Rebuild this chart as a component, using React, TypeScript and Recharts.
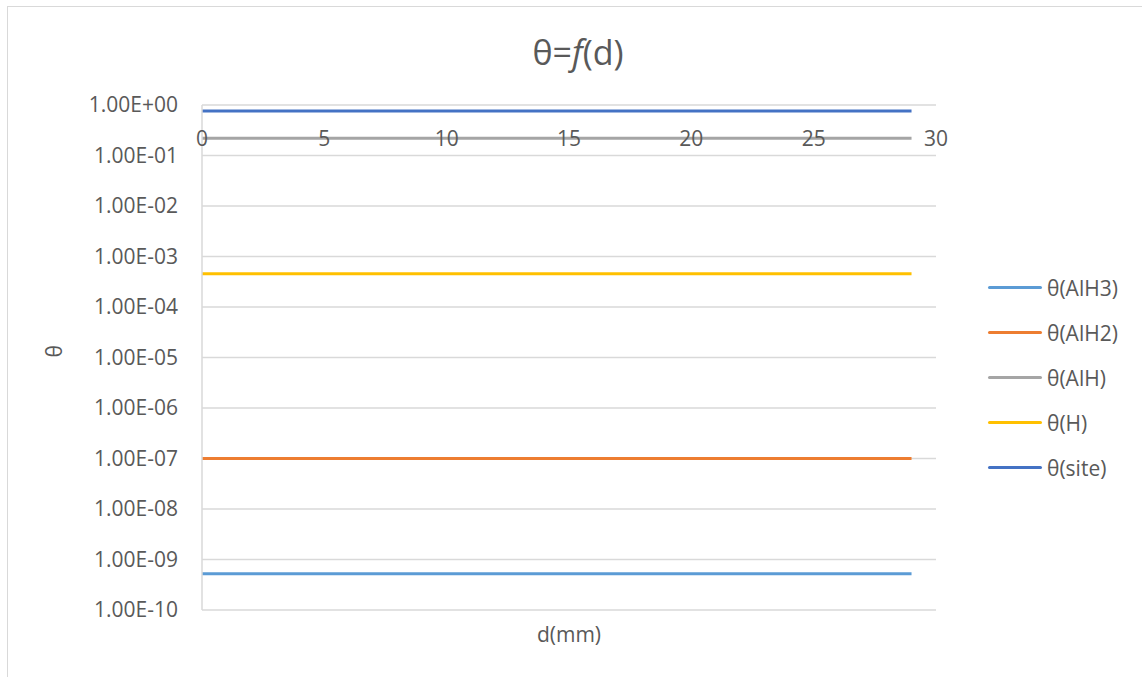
import React from 'react';
import { LineChart, Line, XAxis, YAxis, CartesianGrid, ReferenceDot } from 'recharts';

// distance along the sample, mm
const dValues = [0, 1, 2, 3, 4, 5, 6, 7, 8, 9, 10, 11, 12, 13, 14, 15, 16, 17, 18, 19, 20, 21, 22, 23, 24, 25, 26, 27, 28, 29];

// surface coverages per species
const thetaAlH3 = [5.2e-10, 5.2e-10, 5.2e-10, 5.2e-10, 5.2e-10, 5.2e-10, 5.2e-10, 5.2e-10, 5.2e-10, 5.2e-10, 5.2e-10, 5.2e-10, 5.2e-10, 5.2e-10, 5.2e-10, 5.2e-10, 5.2e-10, 5.2e-10, 5.2e-10, 5.2e-10, 5.2e-10, 5.2e-10, 5.2e-10, 5.2e-10, 5.2e-10, 5.2e-10, 5.2e-10, 5.2e-10, 5.2e-10, 5.2e-10];
const thetaAlH2 = [1.0e-7, 1.0e-7, 1.0e-7, 1.0e-7, 1.0e-7, 1.0e-7, 1.0e-7, 1.0e-7, 1.0e-7, 1.0e-7, 1.0e-7, 1.0e-7, 1.0e-7, 1.0e-7, 1.0e-7, 1.0e-7, 1.0e-7, 1.0e-7, 1.0e-7, 1.0e-7, 1.0e-7, 1.0e-7, 1.0e-7, 1.0e-7, 1.0e-7, 1.0e-7, 1.0e-7, 1.0e-7, 1.0e-7, 1.0e-7];
const thetaAlH = [0.22, 0.22, 0.22, 0.22, 0.22, 0.22, 0.22, 0.22, 0.22, 0.22, 0.22, 0.22, 0.22, 0.22, 0.22, 0.22, 0.22, 0.22, 0.22, 0.22, 0.22, 0.22, 0.22, 0.22, 0.22, 0.22, 0.22, 0.22, 0.22, 0.22];
const thetaH = [4.55e-4, 4.55e-4, 4.55e-4, 4.55e-4, 4.55e-4, 4.55e-4, 4.55e-4, 4.55e-4, 4.55e-4, 4.55e-4, 4.55e-4, 4.55e-4, 4.55e-4, 4.55e-4, 4.55e-4, 4.55e-4, 4.55e-4, 4.55e-4, 4.55e-4, 4.55e-4, 4.55e-4, 4.55e-4, 4.55e-4, 4.55e-4, 4.55e-4, 4.55e-4, 4.55e-4, 4.55e-4, 4.55e-4, 4.55e-4];
const thetaSite = [0.76, 0.76, 0.76, 0.76, 0.76, 0.76, 0.76, 0.76, 0.76, 0.76, 0.76, 0.76, 0.76, 0.76, 0.76, 0.76, 0.76, 0.76, 0.76, 0.76, 0.76, 0.76, 0.76, 0.76, 0.76, 0.76, 0.76, 0.76, 0.76, 0.76];

const xTicks = [0, 5, 10, 15, 20, 25, 30];
const yTicks = [1e-10, 1e-9, 1e-8, 1e-7, 1e-6, 1e-5, 1e-4, 1e-3, 1e-2, 1e-1, 1];
// horizontal axis labels sit where the axis crosses the log scale
const X_LABEL_AT = 0.22;

const series = [
  { key: 'AlH3', name: 'θ(AlH3)', color: '#5B9BD5' },
  { key: 'AlH2', name: 'θ(AlH2)', color: '#ED7D31' },
  { key: 'AlH', name: 'θ(AlH)', color: '#A5A5A5' },
  { key: 'H', name: 'θ(H)', color: '#FFC000' },
  { key: 'site', name: 'θ(site)', color: '#4472C4' },
];

const data = dValues.map((d, i) => ({
  d,
  AlH3: thetaAlH3[i],
  AlH2: thetaAlH2[i],
  AlH: thetaAlH[i],
  H: thetaH[i],
  site: thetaSite[i],
}));

const FONT = `"Open Sans", sans-serif`;
const TEXT = `#595959`;
const GRID = `#D9D9D9`;

const sci = (v: number) => {
  const [m, e] = v.toExponential(2).split('e');
  const n = Math.abs(parseInt(e, 10));
  return `${m}E${e.startsWith('-') ? '-' : '+'}${n < 10 ? '0' : ''}${n}`;
};

// legend kept outside the chart so it doesn't eat into the plot area
const SeriesLegend = () => (
  <div style={{ position: 'absolute', left: 988, top: 265, fontFamily: FONT, fontSize: 21, color: TEXT }}>
    {series.map((s) => (
      <div key={s.key} style={{ display: 'flex', alignItems: 'center', height: 45 }}>
        <span style={{ display: 'inline-block', width: 54, height: 3, borderRadius: 2, background: s.color, marginRight: 5 }} />
        <span>{s.name}</span>
      </div>
    ))}
  </div>
);

export default function App() {
  return (
    <div style={{ position: 'absolute', left: 0, top: 0, width: 1142, height: 677, overflow: 'hidden', background: '#fff' }}>
      <div
        style={{
          position: 'absolute',
          left: 7,
          top: 6,
          width: 1135,
          height: 671,
          borderLeft: `1px solid ${GRID}`,
          borderTop: `1px solid ${GRID}`,
        }}
      />
      <div
        style={{
          position: 'absolute',
          left: 0,
          width: 1156,
          top: 31,
          lineHeight: '42px',
          textAlign: 'center',
          fontFamily: FONT,
          fontSize: 34,
          color: TEXT,
        }}
      >
        θ=<i>f</i>(d)
      </div>
      <LineChart
        width={1142}
        height={677}
        data={data}
        margin={{ top: 105, right: 206, bottom: 0, left: 0 }}
        style={{ position: 'absolute', left: 0, top: 0, fontFamily: FONT }}
      >
        <CartesianGrid stroke={GRID} strokeWidth={1.5} horizontalValues={yTicks} verticalValues={xTicks} />
        <XAxis
          dataKey="d"
          type="number"
          domain={[0, 30]}
          ticks={xTicks}
          tick={false}
          axisLine={false}
          tickLine={false}
          height={67}
          label={{ value: 'd(mm)', position: 'insideBottom', offset: 35, fill: TEXT, fontSize: 21 }}
        />
        <YAxis
          type="number"
          scale="log"
          domain={[1e-10, 1]}
          ticks={yTicks}
          interval={0}
          allowDataOverflow
          width={202}
          axisLine={{ stroke: GRID, strokeWidth: 1.5 }}
          tickLine={false}
          tickSize={0}
          tickMargin={24}
          tickFormatter={sci}
          tick={{ fill: TEXT, fontSize: 21 }}
          label={{ value: 'θ', angle: -90, position: 'insideLeft', offset: 55, fill: TEXT, fontSize: 21 }}
        />
        {series.map((s) => (
          <Line
            key={s.key}
            type="linear"
            dataKey={s.key}
            name={s.name}
            stroke={s.color}
            strokeWidth={3}
            dot={false}
            activeDot={false}
            isAnimationActive={false}
          />
        ))}
        {xTicks.map((t) => (
          <ReferenceDot
            key={t}
            x={t}
            y={X_LABEL_AT}
            r={1}
            fill="none"
            stroke="none"
            label={{ value: String(t), position: 'center', fill: TEXT, fontSize: 21 }}
          />
        ))}
      </LineChart>
      <SeriesLegend />
    </div>
  );
}
